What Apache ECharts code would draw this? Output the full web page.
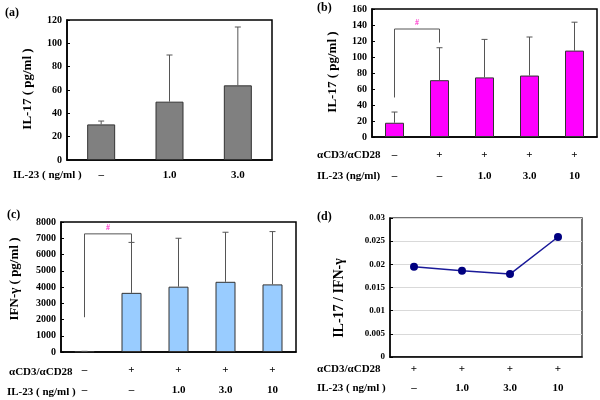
<!DOCTYPE html>
<html><head><meta charset="utf-8">
<script src="https://cdn.jsdelivr.net/npm/echarts@6/dist/echarts.min.js"></script>
<style>html,body{margin:0;padding:0;background:#fff}#c{width:600px;height:400px}</style>
</head><body><div id="c"></div>
<script>
// ---- data ----
const aIL23 = ['–', '1.0', '3.0'];
const aIL17 = [30.5, 50, 64];
const aIL17Err = [33.4, 90, 114];

const bCD3 = ['–', '+', '+', '+', '+'];
const bIL23 = ['–', '–', '1.0', '3.0', '10'];
const bIL17 = [17.8, 71, 74.5, 76.8, 108];
const bIL17Err = [31.2, 111.6, 122, 125, 143.5];
const bBracket = [0, 1, 49.4, 135, 118];

const cCD3 = ['–', '+', '+', '+', '+'];
const cIL23 = ['–', '–', '1.0', '3.0', '10'];
const cIFN = [40, 3640, 4020, 4320, 4160];
const cIFNErr = [40, 6745, 7000, 7370, 7410];
const cBracket = [0, 1, 2140, 7270, 6745];

const dCD3 = ['+', '+', '+', '+'];
const dIL23 = ['–', '1.0', '3.0', '10'];
const dRatio = [0.0195, 0.0186, 0.0179, 0.0259];

// ---- helpers ----
const FONT = 'Liberation Serif';
const idx = n => Array.from({length: n}, (_, i) => String(i));

function errSeries(gi, vals, errs, color) {
  return {
    type: 'custom', xAxisIndex: gi, yAxisIndex: gi, z: 5,
    encode: {x: 0, y: [1, 2]},
    data: vals.map((v, i) => [i, v, errs[i]]),
    renderItem: function (params, api) {
      const base = api.coord([api.value(0), api.value(1)]);
      const top = api.coord([api.value(0), api.value(2)]);
      const st = {stroke: color, lineWidth: 1};
      return {type: 'group', children: [
        {type: 'line', shape: {x1: base[0], y1: base[1], x2: top[0], y2: top[1]}, style: st},
        {type: 'line', shape: {x1: top[0] - 3, y1: top[1], x2: top[0] + 3, y2: top[1]}, style: st}
      ]};
    }
  };
}
function bracketSeries(gi, b) {
  return {
    type: 'custom', xAxisIndex: gi, yAxisIndex: gi, z: 6,
    encode: {x: [0, 1], y: [2, 3, 4]},
    data: [b],
    renderItem: function (params, api) {
      const p1 = api.coord([api.value(0), api.value(2)]);
      const p2 = api.coord([api.value(0), api.value(3)]);
      const p3 = api.coord([api.value(1), api.value(3)]);
      const p4 = api.coord([api.value(1), api.value(4)]);
      return {type: 'group', children: [
        {type: 'polyline', shape: {points: [p1, p2, p3, p4]}, style: {stroke: '#555', lineWidth: 1, fill: null}},
        {type: 'text', x: (p2[0] + p3[0]) / 2, y: p2[1] - 6,
         style: {text: '#', fill: '#ff33cc', font: 'bold 8px ' + FONT, align: 'center', verticalAlign: 'middle'}}
      ]};
    }
  };
}
function catAxis(gi, rows, margin, lh) {
  return {
    type: 'category', gridIndex: gi, data: idx(rows[0].length), boundaryGap: true,
    axisLine: {show: true, lineStyle: {color: '#000', width: 1.5}},
    axisTick: {show: false},
    axisLabel: {
      margin: margin, lineHeight: lh, color: '#000', fontFamily: FONT, fontWeight: 'bold', fontSize: 11,
      formatter: v => rows.map(r => r[+v]).join('\n')
    }
  };
}
function valAxis(gi, max, interval, fs, split) {
  return {
    type: 'value', gridIndex: gi, min: 0, max: max, interval: interval,
    axisLine: {show: true, lineStyle: {color: '#000', width: 1.5}},
    axisTick: {show: true, inside: true, length: 3, lineStyle: {color: '#000'}},
    axisLabel: {color: '#000', fontFamily: FONT, fontWeight: 'bold', fontSize: fs, margin: 5,
      formatter: v => String(v)},
    splitLine: {show: !!split, lineStyle: {color: '#d9d9d9', width: 1}}
  };
}
function txt(x, y, t, size) {
  return {
    type: 'text', x: x, y: y,
    style: {text: t, fill: '#000', font: 'bold ' + size + 'px ' + FONT, align: 'left', verticalAlign: 'middle'}
  };
}
function vtxt(x, y, t, size) {
  return {type: 'text', x: x, y: y, rotation: Math.PI / 2,
    style: {text: t, fill: '#000', font: 'bold ' + size + 'px ' + FONT, align: 'center', verticalAlign: 'middle'}};
}

const chart = echarts.init(document.getElementById('c'), null, {renderer: 'canvas'});
chart.setOption({
  animation: false,
  backgroundColor: '#fff',
  grid: [
    {left: 67, top: 20, width: 205, height: 140, show: true, borderColor: '#000', borderWidth: 1.5, backgroundColor: 'transparent'},
    {left: 372, top: 9, width: 225, height: 128, show: true, borderColor: '#000', borderWidth: 1.5, backgroundColor: 'transparent'},
    {left: 61, top: 222, width: 235, height: 132, show: true, borderColor: '#000', borderWidth: 1.5, backgroundColor: 'transparent'},
    {left: 390, top: 218, width: 192, height: 139, show: true, borderColor: '#444', borderWidth: 1.5, backgroundColor: 'transparent'}
  ],
  xAxis: [
    catAxis(0, [aIL23], 8, 14),
    catAxis(1, [bCD3, bIL23], 8, 21),
    catAxis(2, [cCD3, cIL23], 8, 20),
    catAxis(3, [dCD3, dIL23], 3, 19)
  ],
  yAxis: [
    valAxis(0, 120, 20, 10),
    valAxis(1, 160, 20, 10),
    valAxis(2, 8000, 1000, 10),
    valAxis(3, 0.03, 0.005, 9, true)
  ],
  series: [
    {type: 'bar', xAxisIndex: 0, yAxisIndex: 0, data: aIL17, barWidth: 28,
     itemStyle: {color: '#808080', borderColor: '#333', borderWidth: 1}},
    errSeries(0, aIL17, aIL17Err, '#555'),
    {type: 'bar', xAxisIndex: 1, yAxisIndex: 1, data: bIL17, barWidth: 19,
     itemStyle: {color: '#ff00ff', borderColor: '#333', borderWidth: 1}},
    errSeries(1, bIL17, bIL17Err, '#555'),
    bracketSeries(1, bBracket),
    {type: 'bar', xAxisIndex: 2, yAxisIndex: 2, data: cIFN, barWidth: 20,
     itemStyle: {color: '#99ccff', borderColor: '#333', borderWidth: 1}},
    errSeries(2, cIFN, cIFNErr, '#555'),
    bracketSeries(2, cBracket),
    {type: 'line', xAxisIndex: 3, yAxisIndex: 3, data: dRatio, symbol: 'circle', symbolSize: 8,
     lineStyle: {color: '#1a1a99', width: 1.5}, itemStyle: {color: '#000080'}}
  ],
  graphic: [
    txt(5, 13, '(a)', 12),
    txt(317, 8, '(b)', 12),
    txt(7, 215, '(c)', 12),
    txt(317, 217, '(d)', 12),
    vtxt(28, 89, 'IL-17 ( pg/ml )', 13),
    vtxt(333, 72, 'IL-17 ( pg/ml )', 13),
    vtxt(15, 279, 'IFN-γ ( pg/ml )', 13),
    vtxt(339, 298, 'IL-17 / IFN-γ', 14),
    txt(13, 175, 'IL-23 ( ng/ml )', 11),
    txt(317, 155, 'αCD3/αCD28', 11),
    txt(317, 176, 'IL-23 (ng/ml)', 11),
    txt(9, 372, 'αCD3/αCD28', 11),
    txt(7, 392, 'IL-23 ( ng/ml )', 11),
    txt(317, 369, 'αCD3/αCD28', 11),
    txt(317, 388, 'IL-23 ( ng/ml )', 11)
  ]
});
</script></body></html>
